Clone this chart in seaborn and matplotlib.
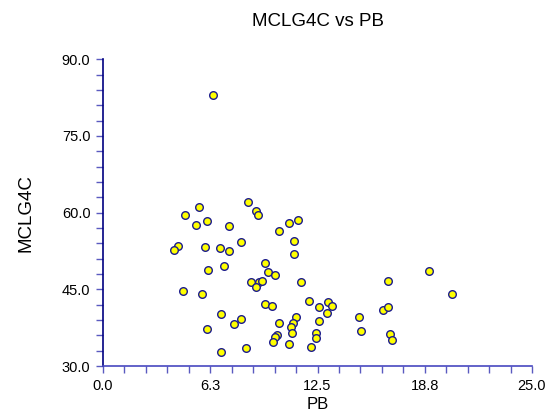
import numpy as np
import pandas as pd
import matplotlib
matplotlib.use("Agg")
import matplotlib.pyplot as plt
import seaborn as sns
from matplotlib.ticker import MultipleLocator

pb = [8.43, 5.61, 4.76, 8.92, 9.05, 6.04, 5.44, 7.34, 11.35, 10.82,
      10.26, 8.04, 11.13, 4.35, 4.12, 5.94, 6.84, 7.36, 11.13, 9.42,
      7.03, 6.14, 9.63, 10.04, 8.62, 9.07, 9.27, 8.93, 11.54, 4.66,
      5.75, 12.02, 13.13, 13.35, 12.61, 13.04, 9.42, 9.85, 6.86, 8.04,
      7.63, 10.26, 11.25, 11.05, 10.94, 12.61, 6.04, 11.03, 12.43, 12.43,
      10.14, 10.02, 9.93, 10.82, 12.12, 8.33, 6.86, 6.43,
      14.92, 15.03, 16.63, 16.32, 16.63, 16.72, 16.82, 19.02, 20.34]
mclg4c = [62.0, 61.2, 59.6, 60.3, 59.6, 58.4, 57.5, 57.4, 58.6, 58.0,
          56.4, 54.3, 54.4, 53.5, 52.7, 53.2, 53.0, 52.5, 51.9, 50.2,
          49.6, 48.8, 48.4, 47.9, 46.4, 46.5, 46.6, 45.4, 46.4, 44.6,
          44.0, 42.8, 42.6, 41.7, 41.5, 40.4, 42.2, 41.7, 40.1, 39.1,
          38.2, 38.4, 39.6, 38.5, 37.6, 38.9, 37.3, 36.4, 36.5, 35.5,
          36.0, 35.6, 34.6, 34.3, 33.7, 33.5, 32.8, 83.0,
          39.6, 36.9, 46.7, 41.0, 41.5, 36.3, 35.0, 48.5, 44.1]

x_ticks = [0.0, 6.25, 12.5, 18.75, 25.0]
x_tick_labels = ["0.0", "6.3", "12.5", "18.8", "25.0"]
y_ticks = [30.0, 45.0, 60.0, 75.0, 90.0]
y_tick_labels = ["30.0", "45.0", "60.0", "75.0", "90.0"]

df = pd.DataFrame({"PB": pb, "MCLG4C": mclg4c})

sns.set_style("white")
plt.rcParams["font.family"] = ["Liberation Sans", "DejaVu Sans"]
plt.rcParams["text.color"] = "black"
plt.rcParams["axes.labelcolor"] = "black"

fig = plt.figure(figsize=(5.6, 4.17), dpi=100)
ax = fig.add_axes([103/560, 1 - 366/417, (532-103)/560, (366-59.3)/417])

sns.scatterplot(data=df, x="PB", y="MCLG4C", ax=ax, s=30,
                color="#ffff00", edgecolor="#1a1a8c", linewidth=1.0,
                clip_on=False, zorder=3)

ax.set_xlim(0, 25)
ax.set_ylim(30, 90)
ax.set_xticks(x_ticks)
ax.set_xticklabels(x_tick_labels)
ax.set_yticks(y_ticks)
ax.set_yticklabels(y_tick_labels)
ax.xaxis.set_minor_locator(MultipleLocator(1.25))
ax.yaxis.set_minor_locator(MultipleLocator(3))

for s in ["top", "right"]:
    ax.spines[s].set_visible(False)
ax.spines["left"].set_color("#000080")
ax.spines["left"].set_linewidth(1.2)
ax.spines["bottom"].set_color("#4848c0")
ax.spines["bottom"].set_linewidth(1.2)

ax.tick_params(axis="both", which="both", direction="out", length=5,
               width=1.0, color="#5a5ac0", labelsize=10.5,
               labelcolor="black", pad=4, bottom=True, left=True)

ax.set_xlabel("PB", fontsize=12, labelpad=3, color="black")
ax.set_ylabel("MCLG4C", fontsize=13.5, labelpad=20, color="black")
ax.set_title("MCLG4C vs PB", fontsize=13.5, pad=24, color="black")

fig.savefig("out.png", dpi=100)
